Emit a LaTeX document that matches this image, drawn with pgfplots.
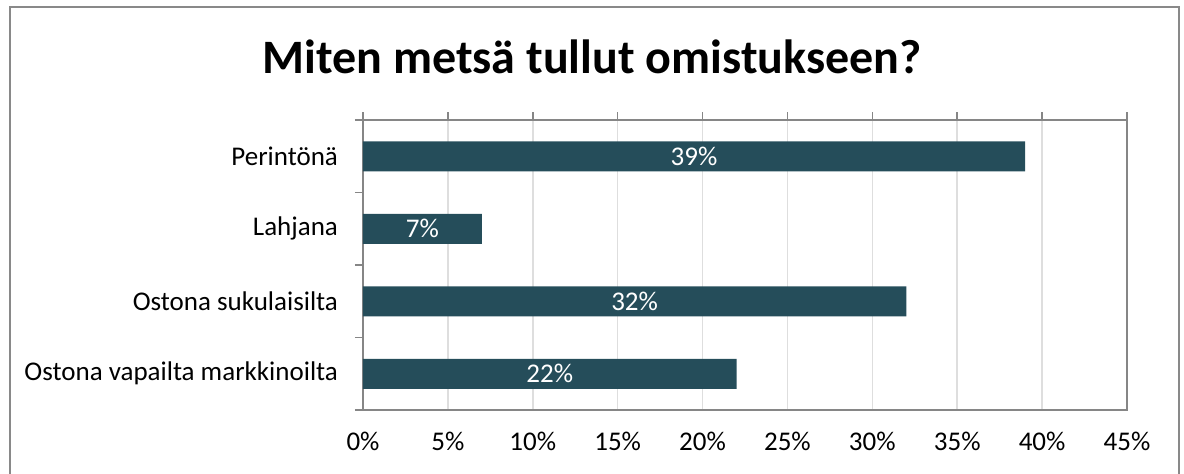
\documentclass[border=0pt]{standalone}
\usepackage{fontspec}
\setmainfont{Carlito}
\usepackage{pgfplots}
\pgfplotsset{compat=1.18}
\definecolor{barteal}{RGB}{37,77,90}
\definecolor{axgrey}{RGB}{134,134,134}
\definecolor{gridgrey}{RGB}{222,222,222}
\definecolor{framegrey}{RGB}{137,137,137}

% pos 0 = bottom row
\pgfplotstableread{
pos val mid
0 22 11
1 32 16
2 7 3.5
3 39 19.5
}\shares

\begin{document}
\begin{tikzpicture}[x=0.5pt,y=0.5pt]
\useasboundingbox (0,0) rectangle (1184,473);
\draw[framegrey, line width=1pt] (10,-10) -- (10,466) -- (1179,466) -- (1179,-10);
\node[font=\bfseries\fontsize{24}{28}\selectfont, anchor=base] at (592,400) {Miten metsä tullut omistukseen?};
\begin{axis}[
  at={(181.5pt,31.5pt)}, anchor=south west,
  width=382pt, height=145pt, scale only axis,
  xmin=0, xmax=45, ymin=-0.5, ymax=3.5,
  axis line style={axgrey, line width=1pt},
  xtick={0,5,...,45},
  xtick pos=upper, xticklabel pos=lower,
  tick align=outside,
  major tick length=4pt, minor tick length=4pt,
  tick style={axgrey, line width=0.8pt},
  xmajorgrids, grid style={gridgrey, line width=0.8pt},
  xticklabel={\pgfmathprintnumber{\tick}\%},
  /pgf/number format/assume math mode=true,
  xticklabel style={font=\fontsize{13.5}{16}\selectfont, yshift=-3.5pt},
  ytick={0,1,2,3},
  yticklabels={Ostona vapailta markkinoilta, Ostona sukulaisilta, Lahjana, Perintönä},
  ytick pos=left,
  every major y tick/.style={draw=none},
  minor ytick={-0.5,0.5,1.5,2.5,3.5},
  yticklabel style={font=\fontsize{13.5}{16}\selectfont, anchor=east, xshift=-5pt},
]
\addplot[xbar, bar width=15pt, fill=barteal, draw=none] table[x=val, y=pos] {\shares};
\addplot[only marks, mark=none, point meta=explicit,
  nodes near coords={\pgfmathprintnumber{\pgfplotspointmeta}\%},
  every node near coord/.append style={anchor=center, white, font=\fontsize{13.5}{16}\selectfont}]
  table[x=mid, y=pos, meta=val] {\shares};
\end{axis}
\end{tikzpicture}
\end{document}
